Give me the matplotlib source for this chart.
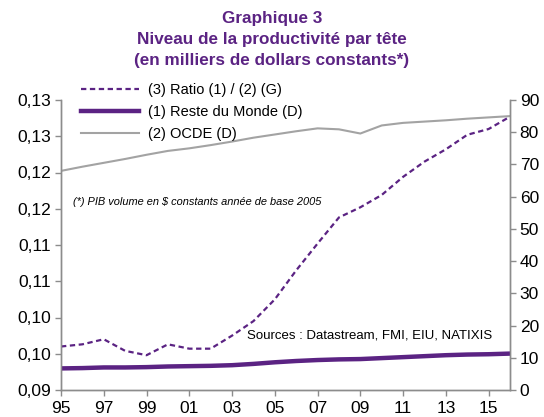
import matplotlib
matplotlib.use("Agg")
import matplotlib.pyplot as plt
from matplotlib.lines import Line2D

years = list(range(1995, 2017))
ratio = [0.0960, 0.0963, 0.0970, 0.0954, 0.0948, 0.0963, 0.0957, 0.0957, 0.0975, 0.0995,
         0.1025, 0.1065, 0.1102, 0.1138, 0.1152, 0.1169, 0.1194, 0.1215, 0.1232, 0.1252,
         0.1260, 0.1277]
reste_monde = [6.7, 6.8, 7.0, 7.0, 7.1, 7.3, 7.4, 7.5, 7.7, 8.1,
               8.6, 9.0, 9.3, 9.5, 9.6, 9.9, 10.2, 10.5, 10.8, 11.0,
               11.1, 11.3]
ocde = [68.0, 69.3, 70.5, 71.7, 73.0, 74.2, 75.0, 76.0, 77.1, 78.3,
        79.3, 80.3, 81.2, 80.9, 79.6, 82.1, 82.9, 83.3, 83.7, 84.2,
        84.6, 85.0]

left_ticks = [0.09, 0.095, 0.10, 0.105, 0.11, 0.115, 0.12, 0.125, 0.13]
left_labels = ['0,09', '0,10', '0,10', '0,11', '0,11', '0,12', '0,12', '0,13', '0,13']
right_ticks = [0, 10, 20, 30, 40, 50, 60, 70, 80, 90]
x_ticks = list(range(1995, 2016, 2))
x_labels = ['95', '97', '99', '01', '03', '05', '07', '09', '11', '13', '15']

title_lines = ["Graphique 3", "Niveau de la productivité par tête", "(en milliers de dollars constants*)"]
note = "(*) PIB volume en $ constants année de base 2005"
source = "Sources : Datastream, FMI, EIU, NATIXIS"
labels = ["(3) Ratio (1) / (2) (G)", "(1) Reste du Monde (D)", "(2) OCDE (D)"]

purple = "#5B2383"
grey_line = "#A3A3A3"
axis_grey = "#8C8C8C"

plt.rcParams['font.family'] = ['Liberation Sans', 'DejaVu Sans']

W, H = 544, 417
fig = plt.figure(figsize=(W / 100, H / 100), dpi=100)
L, R, T, B = 61, 510, 100, 390
ax = fig.add_axes([L / W, 1 - B / H, (R - L) / W, (B - T) / H])
ax2 = ax.twinx()

ax2.plot(years, ocde, color=grey_line, lw=1.5, zorder=2)
ax2.plot(years, reste_monde, color=purple, lw=3.2, solid_capstyle='butt', zorder=3)
ax.set_zorder(ax2.get_zorder() + 1)
ax.patch.set_visible(False)
ax.plot(years, ratio, color=purple, lw=1.6, dashes=(2.4, 1.6))

ax.set_xlim(1995, 2016)
ax.set_ylim(0.09, 0.13)
ax2.set_ylim(0, 90)

ax.set_yticks(left_ticks)
ax.set_yticklabels(left_labels)
ax2.set_yticks(right_ticks)
ax.set_xticks(x_ticks)
ax.set_xticklabels(x_labels)

for a in (ax, ax2):
    for s in a.spines.values():
        s.set_color(axis_grey)
        s.set_linewidth(1.0)
    a.spines['top'].set_visible(False)
    a.tick_params(colors=axis_grey, labelcolor='black', labelsize=12.5, length=4, width=1.0, direction='out')
ax.tick_params(axis='y', pad=3)
ax2.tick_params(axis='y', pad=3)
ax.tick_params(axis='x', pad=4)

for i, line in enumerate(title_lines):
    fig.text(0.5, 1 - (18 + 21.5 * i) / H, line, ha='center', va='center', color=purple,
             fontsize=12.3, fontweight='bold')

handles = [Line2D([], [], color=purple, lw=1.6, dashes=(2.4, 1.6)),
           Line2D([], [], color=purple, lw=3.2),
           Line2D([], [], color=grey_line, lw=1.5)]
fig.legend(handles, labels, loc='upper left', bbox_to_anchor=(69 / W, 1 - 71 / H),
           frameon=False, fontsize=10.5, handlelength=4.0, handletextpad=0.6,
           labelspacing=0.55, borderpad=0.3)

fig.text(73 / W, 1 - 202 / H, note, fontsize=7.9, style='italic', va='center', ha='left')
fig.text(247 / W, 1 - 336 / H, source, fontsize=9.5, va='center', ha='left')

fig.savefig("out.png", dpi=100)
